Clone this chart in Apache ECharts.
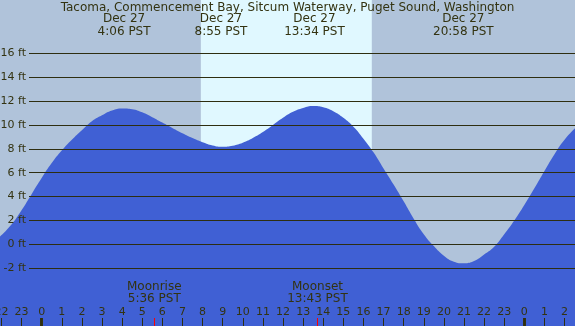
<!DOCTYPE html>
<html>
<head>
<meta charset="utf-8">
<script src="https://cdn.jsdelivr.net/npm/echarts@6/dist/echarts.min.js"></script>
<style>
html, body { margin: 0; padding: 0; }
#main { width: 575px; height: 326px; }
</style>
</head>
<body>
<div id="main"></div>
<script>
// tide curve (hours from midnight Dec 27, feet)
const tideHours = [-2.07, -1.5, -1, -0.5, 0, 0.5, 1, 1.5, 2, 2.5, 3, 3.5, 4, 4.5, 5, 5.5, 6, 6.5, 7, 7.5, 8, 8.5, 9, 9.5, 10, 10.5, 11, 11.5, 12, 12.5, 13, 13.5, 14, 14.5, 15, 15.5, 16, 16.5, 17, 17.5, 18, 18.5, 19, 19.5, 20, 20.5, 21, 21.5, 22, 22.5, 23, 23.5, 24, 24.5, 25, 25.5, 26, 26.52]
const tideFeet = [0.64, 1.65, 2.85, 4.2, 5.55, 6.8, 7.85, 8.75, 9.55, 10.3, 10.8, 11.2, 11.38, 11.32, 11.05, 10.65, 10.2, 9.75, 9.3, 8.9, 8.55, 8.28, 8.17, 8.25, 8.5, 8.9, 9.4, 10.0, 10.6, 11.1, 11.42, 11.58, 11.48, 11.15, 10.6, 9.85, 8.85, 7.7, 6.35, 5.0, 3.6, 2.15, 0.85, -0.15, -0.95, -1.45, -1.59, -1.4, -0.85, -0.2, 0.85, 2.0, 3.3, 4.7, 6.15, 7.55, 8.75, 9.71]

// high / low events
const tideDates = ['Dec 27', 'Dec 27', 'Dec 27', 'Dec 27']
const tideTimes = ['4:06', '8:55', '13:34', '20:58']

// daylight
const sunTimes = ['7:55', '16:25']

// moon
const moonNames = ['Moonrise', 'Moonset']
const moonTimes = ['5:36', '13:43']

// midnights on the hour axis
const midnights = [0, 24]

const title = 'Tacoma, Commencement Bay, Sitcum Waterway, Puget Sound, Washington'

const txtColor = '#333311'
const lineColor = '#2e2e10'
const font = 'DejaVu Sans'

function toHours(s) {
    let p = s.split(':')
    return +p[0] + (+p[1]) / 60
}

var chart = echarts.init(document.getElementById('main'), null, { renderer: 'canvas' })

const xMin = -2.07, xMax = 26.52
const yMin = -6.84, yMax = 20.46

const option = {
    animation: false,
    backgroundColor: '#b0c3da',
    title: {
        text: title,
        left: 'center',
        top: 1.5,
        padding: 0,
        textStyle: { fontSize: 12, fontWeight: 'normal', fontFamily: font, color: txtColor }
    },
    grid: [
        { left: 0, right: 0, top: 0, bottom: 0, outerBoundsMode: 'none', containLabel: false },
        { left: 29, right: 0, top: 53.3, bottom: 57.7, outerBoundsMode: 'none', containLabel: false },
        { left: 1.48, right: 10.44, top: 318, bottom: 0, outerBoundsMode: 'none', containLabel: false }
    ],
    xAxis: [
        { type: 'value', gridIndex: 0, min: xMin, max: xMax, show: false },
        { type: 'value', gridIndex: 1, min: 0, max: 1, show: false },
        {
            type: 'value', gridIndex: 2, min: -2, max: 26, interval: 1, z: 5,
            axisLine: { show: false },
            splitLine: { show: false },
            axisTick: { inside: true, length: 8, lineStyle: { color: lineColor, width: 1 } },
            axisLabel: {
                inside: true, margin: 14, verticalAlign: 'middle',
                showMinLabel: true, showMaxLabel: true,
                fontSize: 11, fontFamily: font, color: txtColor,
                formatter: v => String(((v % 24) + 24) % 24)
            }
        }
    ],
    yAxis: [
        { type: 'value', gridIndex: 0, min: yMin, max: yMax, show: false },
        {
            type: 'value', gridIndex: 1, min: -2, max: 16, interval: 2, z: 5,
            axisLine: { show: false },
            axisTick: { show: false },
            splitLine: { show: true, lineStyle: { color: lineColor, width: 1 } },
            axisLabel: { formatter: '{value} ft', margin: 3, fontSize: 11, fontFamily: font, color: txtColor }
        },
        { type: 'value', gridIndex: 2, min: 0, max: 1, show: false }
    ],
    series: [
        {
            name: 'day',
            type: 'line',
            xAxisIndex: 0, yAxisIndex: 0,
            z: 1,
            symbol: 'none',
            lineStyle: { width: 0 },
            areaStyle: { color: '#e0f8ff', opacity: 1, origin: 'start' },
            data: sunTimes.map(t => [toHours(t), yMax])
        },
        {
            name: 'tide',
            type: 'line',
            xAxisIndex: 0, yAxisIndex: 0,
            z: 2,
            smooth: 0.5,
            symbol: 'none',
            lineStyle: { width: 0 },
            areaStyle: { color: '#4060d4', opacity: 1, origin: 'start' },
            data: tideHours.map((h, i) => [h, tideFeet[i]])
        },
        {
            name: 'marks',
            type: 'line',
            xAxisIndex: 2, yAxisIndex: 2,
            z: 6,
            data: [],
            markLine: {
                silent: true,
                symbol: 'none',
                label: { show: false },
                data: midnights.map(h => ({ xAxis: h, lineStyle: { color: txtColor, width: 3, type: 'solid' } }))
                    .concat(moonTimes.map(t => ({ xAxis: toHours(t), lineStyle: { color: '#ff0000', width: 1, type: 'solid' } })))
            }
        }
    ]
};

chart.setOption(option);

// event labels placed through the time axis
let graphics = []
tideTimes.forEach((t, i) => {
    let px = chart.convertToPixel({ xAxisIndex: 0 }, toHours(t))
    graphics.push({
        type: 'text', x: px, y: 12.5, z: 10,
        style: { text: tideDates[i] + '\n' + t + ' PST', align: 'center', verticalAlign: 'top', lineHeight: 13, fill: txtColor, font: '12px "DejaVu Sans"' }
    })
})
moonTimes.forEach((t, i) => {
    let px = chart.convertToPixel({ xAxisIndex: 0 }, toHours(t))
    graphics.push({
        type: 'text', x: px, y: 280.5, z: 10,
        style: { text: moonNames[i] + '\n' + t + ' PST', align: 'center', verticalAlign: 'top', lineHeight: 12, fill: txtColor, font: '12px "DejaVu Sans"' }
    })
})
chart.setOption({ graphic: graphics })
</script>
</body>
</html>
